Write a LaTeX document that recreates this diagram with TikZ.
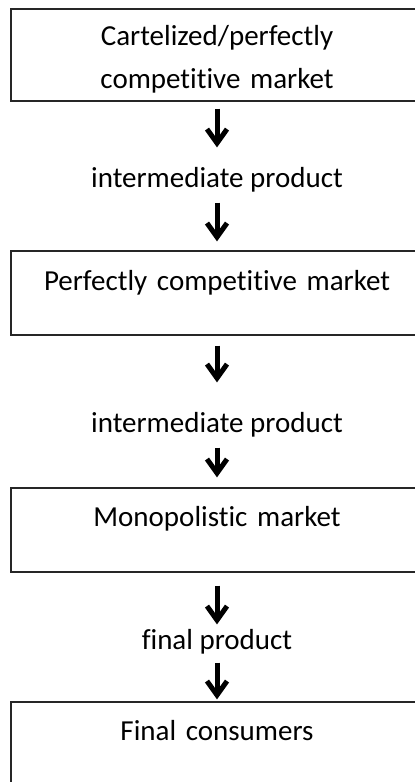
\documentclass[tikz,border=0pt]{standalone}
\usepackage{fontspec}
\setmainfont{Carlito}[Ligatures=NoCommon]
\usetikzlibrary{arrows.meta,positioning}
\newcommand{\chainfont}{\fontsize{29}{43}\selectfont}

\begin{document}
\begin{tikzpicture}[
    x=1pt, y=1pt,
    node distance=115pt,
    market/.style={rectangle, draw=black!85, line width=1.3pt, inner sep=0pt, minimum width=412pt, text width=412pt, align=center, text height=36pt, text depth=48pt, font=\chainfont},
    product/.style={inner sep=0pt, font=\chainfont},
    arrow/.style={line width=5pt, -{Straight Barb[length=14pt, width=20pt, line width=5pt]}}
]
\useasboundingbox (0,0) rectangle (415,-782);

% Nodes
\node (cartel) [market, text height=36pt, text depth=56pt] at (217,-55) {Cartelized/perfectly\\competitive market};
\node (inter1) [product, below of=cartel, yshift=-10pt] {intermediate product};
\node (compet) [market, below of=inter1, yshift=2pt, text height=39pt, text depth=45pt] {Perfectly competitive market};
\node (inter2) [product, below of=compet, yshift=-17pt] {intermediate product};
\node (monop) [market, below of=inter2, yshift=10pt, text height=38pt, text depth=46pt] {Monopolistic market};
\node (final) [product, below of=monop, yshift=3pt] {final product};
\node (consum) [market, below of=final, yshift=13pt, text height=38pt, text depth=46pt] {Final consumers};

% Arrows
\draw [arrow, shorten <=7pt, shorten >=20pt] (cartel) -- (inter1);
\draw [arrow, shorten <=10pt, shorten >=9pt] (inter1) -- (compet);
\draw [arrow, shorten <=10pt, shorten >=30pt] (compet) -- (inter2);
\draw [arrow, shorten <=10pt, shorten >=10pt] (inter2) -- (monop);
\draw [arrow, shorten <=13pt, shorten >=5pt] (monop) -- (final);
\draw [arrow, shorten <=8pt, shorten >=2pt] (final) -- (consum);

\end{tikzpicture}
\end{document}
